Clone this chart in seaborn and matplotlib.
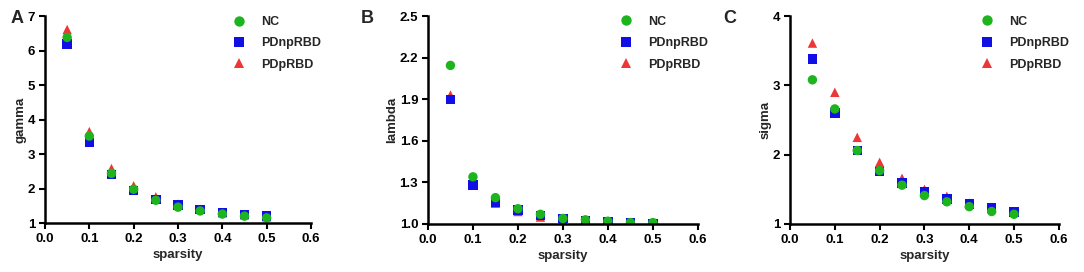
import numpy as np
import pandas as pd
import matplotlib
matplotlib.use("Agg")
import matplotlib.pyplot as plt
import seaborn as sns

sparsity = [0.05, 0.10, 0.15, 0.20, 0.25, 0.30, 0.35, 0.40, 0.45, 0.50]
groups = ["NC", "PDnpRBD", "PDpRBD"]

gamma_nc = [6.38, 3.52, 2.44, 1.98, 1.66, 1.46, 1.35, 1.26, 1.20, 1.15]
gamma_pdnp = [6.19, 3.33, 2.41, 1.94, 1.69, 1.52, 1.39, 1.30, 1.24, 1.20]
gamma_pdp = [6.61, 3.65, 2.58, 2.08, 1.76, 1.55, 1.40, 1.30, 1.24, 1.18]

lambda_nc = [2.144, 1.34, 1.19, 1.11, 1.07, 1.04, 1.03, 1.02, 1.01, 1.01]
lambda_pdnp = [1.90, 1.28, 1.16, 1.10, 1.06, 1.04, 1.025, 1.017, 1.01, 1.005]
lambda_pdp = [1.93, 1.28, 1.15, 1.09, 1.05, 1.03, 1.02, 1.015, 1.01, 1.005]

sigma_nc = [3.08, 2.66, 2.06, 1.77, 1.56, 1.41, 1.32, 1.25, 1.18, 1.14]
sigma_pdnp = [3.38, 2.60, 2.06, 1.76, 1.59, 1.46, 1.36, 1.29, 1.23, 1.17]
sigma_pdp = [3.61, 2.90, 2.25, 1.89, 1.66, 1.50, 1.40, 1.30, 1.23, 1.17]

panels = [
    ("A", "gamma", (gamma_nc, gamma_pdnp, gamma_pdp), (1, 7), [1, 2, 3, 4, 5, 6, 7]),
    ("B", "lambda", (lambda_nc, lambda_pdnp, lambda_pdp), (1.0, 2.5), [1.0, 1.3, 1.6, 1.9, 2.2, 2.5]),
    ("C", "sigma", (sigma_nc, sigma_pdnp, sigma_pdp), (1, 4), [1, 2, 3, 4]),
]
ytick_fmt = ["{:.0f}", "{:.1f}", "{:.0f}"]

sns.set_style("ticks")
plt.rcParams["font.family"] = ["Liberation Sans", "DejaVu Sans"]
plt.rcParams["font.weight"] = "bold"

palette = {"NC": "#1EB41E", "PDnpRBD": "#1010E6", "PDpRBD": "#EE3636"}
markers = {"NC": "o", "PDnpRBD": "s", "PDpRBD": "^"}

fig = plt.figure(figsize=(10.84, 2.72), dpi=100)
positions = [
    [0.0415, 0.180, 0.2454, 0.761],
    [0.3948, 0.1765, 0.249, 0.7645],
    [0.7288, 0.1765, 0.248, 0.7645],
]

for i, (letter, ylabel, series, ylim, yticks) in enumerate(panels):
    ax = fig.add_axes(positions[i])
    rows = []
    # draw order: PDpRBD first, NC on top
    for g, vals in zip(groups[::-1], series[::-1]):
        for x, y in zip(sparsity, vals):
            rows.append({"sparsity": x, "value": y, "group": g})
    df = pd.DataFrame(rows)
    sns.scatterplot(data=df, x="sparsity", y="value", hue="group", style="group",
                    hue_order=groups, style_order=groups, palette=palette,
                    markers=markers, s=46, linewidth=0, ax=ax, legend=True)
    ax.set_xlim(0, 0.6)
    ax.set_ylim(*ylim)
    ax.set_xticks([0.0, 0.1, 0.2, 0.3, 0.4, 0.5, 0.6])
    ax.set_xticklabels(["{:.1f}".format(v) for v in [0.0, 0.1, 0.2, 0.3, 0.4, 0.5, 0.6]])
    ax.set_yticks(yticks)
    ax.set_yticklabels([ytick_fmt[i].format(v) for v in yticks])
    ax.set_xlabel("sparsity", fontsize=9.5, fontweight="bold", labelpad=3)
    ax.set_ylabel(ylabel, fontsize=9.5, fontweight="bold", labelpad=1)
    for sp in ["top", "right"]:
        ax.spines[sp].set_visible(False)
    for sp in ["left", "bottom"]:
        ax.spines[sp].set_linewidth(1.8)
        ax.spines[sp].set_color("black")
    ax.spines["bottom"].set_capstyle("projecting")
    ax.tick_params(axis="both", width=1.5, length=4, labelsize=9.5, colors="black", pad=3)
    for lab in ax.get_xticklabels() + ax.get_yticklabels():
        lab.set_fontweight("bold")
    handles, labels = ax.get_legend_handles_labels()
    ax.legend(handles=handles, labels=labels, loc="upper right", frameon=False,
              bbox_to_anchor=(1.08, 1.055), handletextpad=0.8, labelspacing=0.75,
              prop={"weight": "bold", "size": 9}, markerscale=1.1)
    ax.text(-0.13 if i == 0 else -0.25, 1.03, letter, transform=ax.transAxes,
            fontsize=13, fontweight="bold", va="top", ha="left")

fig.savefig("out.png", dpi=100)
